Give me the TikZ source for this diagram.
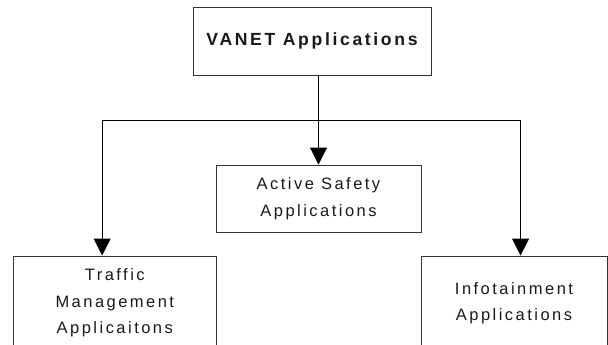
\documentclass[tikz,border=0pt]{standalone}
\usepackage{fontspec}
\setmainfont{Liberation Sans}
\newfontfamily\spaced[LetterSpace=15]{Liberation Sans}
\usetikzlibrary{arrows.meta}

\begin{document}
\begin{tikzpicture}[x=1pt, y=-1pt,
  box/.style={draw=black!80, line width=0.9pt, align=center, inner sep=0pt, text=black!90,
    font=\spaced\fontsize{16.5}{26.5}\selectfont},
  link/.style={draw=black, line width=0.9pt, -{Triangle[width=17pt,length=17pt]}}]
\useasboundingbox (0,0) rectangle (608,345);
\clip (0,0) rectangle (608,345);
% boxes
\node[box, minimum width=238pt, minimum height=67.5pt,
  font=\spaced\bfseries\fontsize{17.6}{21}\selectfont] (vanet) at (312,41.25) {VANET Applications};
\node[box, minimum width=205pt, minimum height=67.5pt] (safety) at (318.5,198.75) {Active Safety\\Applications};
\node[box, minimum width=202.4pt, minimum height=94pt] (traffic) at (114.8,303) {Traffic\\Management\\Applicaitons};
\node[box, minimum width=186pt, minimum height=94pt] (info) at (514,303) {Infotainment\\Applications};
% connectors
\coordinate (split) at (318.5,120.5);
\draw[link] (vanet.south -| safety.north) -- (safety.north);
\draw[link] (split) -| ([xshift=89pt]traffic.north west);
\draw[link] (split) -| ([xshift=100pt]info.north west);
\end{tikzpicture}
\end{document}
